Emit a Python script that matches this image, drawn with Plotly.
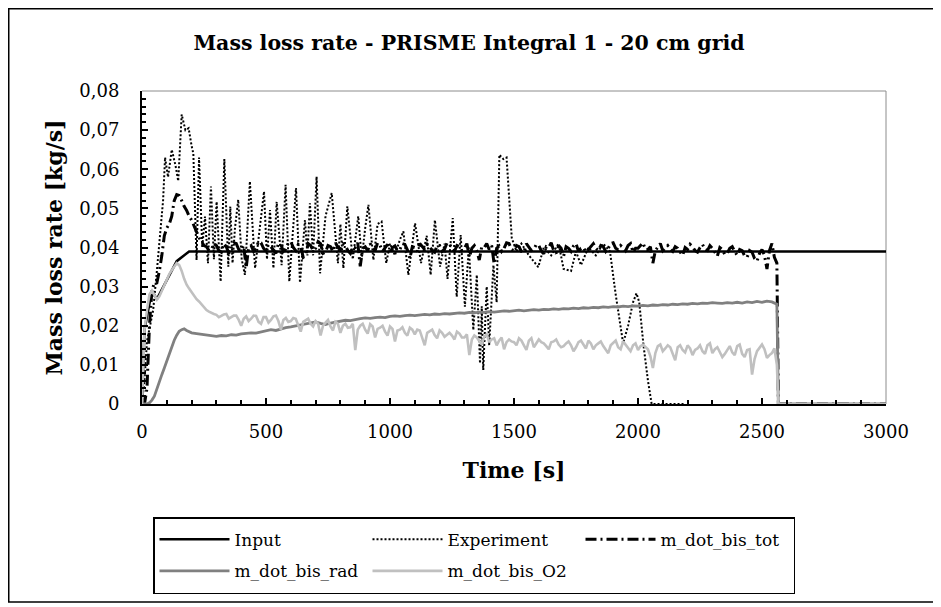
import plotly.graph_objects as go

# ---------------- data ----------------
series_names = ["Input", "Experiment", "m_dot_bis_tot", "m_dot_bis_rad", "m_dot_bis_O2"]

input_t = [0, 10, 40, 60, 140, 190, 3000]
input_v = [0.0, 0.019, 0.029, 0.0268, 0.0365, 0.0390, 0.0390]

exp_t = [0, 10, 20, 30, 45, 60, 75, 85, 93, 105, 120, 135, 146, 160, 175, 188, 200, 207, 220, 230,
         243, 254, 266, 278, 290, 301, 317, 332, 348, 356, 365, 375, 388, 402, 415, 435, 456, 475, 492, 504,
         516, 530, 543, 563, 579, 594, 621, 637, 657, 667, 677, 690, 704, 718, 740, 765, 790, 800, 812, 828,
         850, 872, 886, 900, 913, 933, 950, 966, 985, 1000, 1020, 1040, 1054, 1074, 1101, 1125, 1148, 1164, 1181, 1202,
         1220, 1232, 1253, 1269, 1285, 1302, 1318, 1336, 1350, 1363, 1370, 1376, 1390, 1400, 1417, 1430, 1441, 1457, 1470, 1491,
         1510, 1530, 1560, 1598, 1620, 1650, 1680, 1700, 1730, 1750, 1770, 1800, 1830, 1860, 1887, 1910, 1940, 1960, 1980, 1994,
         2005, 2022, 2040, 2055, 2100, 2190]
exp_v = [0.0, 0.006, 0.016, 0.019, 0.024, 0.034, 0.044, 0.052, 0.063, 0.058, 0.065, 0.061, 0.057, 0.074, 0.070, 0.0705, 0.066, 0.064, 0.0368, 0.063,
         0.040, 0.0479, 0.036, 0.0556, 0.037, 0.0517, 0.0313, 0.0626, 0.0351, 0.0505, 0.036, 0.045, 0.0522, 0.037, 0.033, 0.0569, 0.0347, 0.045, 0.0543, 0.037,
         0.0496, 0.0347, 0.0517, 0.0355, 0.056, 0.0313, 0.0552, 0.031, 0.047, 0.038, 0.0513, 0.038, 0.0581, 0.0334, 0.048, 0.0539, 0.036, 0.046, 0.0347, 0.0505,
         0.037, 0.048, 0.037, 0.045, 0.0509, 0.0368, 0.046, 0.0466, 0.036, 0.041, 0.038, 0.042, 0.0441, 0.033, 0.0462, 0.036, 0.043, 0.033, 0.047, 0.0351,
         0.041, 0.032, 0.0475, 0.0274, 0.0432, 0.0249, 0.040, 0.0189, 0.033, 0.0104, 0.025, 0.0087, 0.030, 0.015, 0.0355, 0.026, 0.0637, 0.0626, 0.063, 0.0424,
         0.039, 0.041, 0.038, 0.035, 0.040, 0.038, 0.041, 0.0345, 0.034, 0.039, 0.0355, 0.040, 0.038, 0.041, 0.039, 0.028, 0.0155, 0.020, 0.026, 0.0283,
         0.026, 0.0151, 0.006, 0.0, 0.0, 0.0]

# simulation output time grids (s)
t_fine = list(range(0, 200, 10)) + list(range(200, 2561, 10)) + [2566, 3000]
t_coarse = list(range(0, 200, 10)) + list(range(200, 2561, 20)) + [2566, 3000]

tot_v = [0.0, 0.0, 0.004, 0.020, 0.029, 0.031, 0.031, 0.034, 0.038, 0.043,
         0.045, 0.046, 0.048, 0.052, 0.0535, 0.0533, 0.052, 0.0505, 0.0495, 0.048,
         0.0470, 0.0455, 0.0440, 0.0425, 0.0415, 0.0405, 0.0402, 0.0392, 0.0395, 0.0410,
         0.0405, 0.0392, 0.0388, 0.0410, 0.0402, 0.0385, 0.0398, 0.0412, 0.0410, 0.0395,
         0.0392, 0.0405, 0.0348, 0.0400, 0.0405, 0.0390, 0.0398, 0.0415, 0.0412, 0.0398,
         0.0390, 0.0408, 0.0402, 0.0392, 0.0385, 0.0410, 0.0408, 0.0390, 0.0396, 0.0412,
         0.0415, 0.0400, 0.0392, 0.0408, 0.0402, 0.0375, 0.0380, 0.0410, 0.0405, 0.0392,
         0.0398, 0.0415, 0.0410, 0.0385, 0.0388, 0.0405, 0.0402, 0.0390, 0.0412, 0.0400,
         0.0395, 0.0410, 0.0405, 0.0392, 0.0385, 0.0402, 0.0400, 0.0412, 0.0352, 0.0398,
         0.0402, 0.0392, 0.0410, 0.0400, 0.0392, 0.0412, 0.0405, 0.0390, 0.0398, 0.0408,
         0.0385, 0.0400, 0.0404, 0.0392, 0.0395, 0.0410, 0.0408, 0.0394, 0.0372, 0.0402,
         0.0400, 0.0390, 0.0410, 0.0402, 0.0395, 0.0408, 0.0402, 0.0392, 0.0388, 0.0405,
         0.0405, 0.0390, 0.0396, 0.0412, 0.0410, 0.0395, 0.0390, 0.0405, 0.0402, 0.0392,
         0.0398, 0.0410, 0.0375, 0.0398, 0.0405, 0.0392, 0.0368, 0.0402, 0.0400, 0.0410,
         0.0395, 0.0405, 0.0358, 0.0398, 0.0404, 0.0390, 0.0398, 0.0412, 0.0410, 0.0395,
         0.0392, 0.0405, 0.0402, 0.0390, 0.0388, 0.0410, 0.0400, 0.0392, 0.0395, 0.0408,
         0.0405, 0.0392, 0.0384, 0.0402, 0.0400, 0.0412, 0.0392, 0.0385, 0.0405, 0.0398,
         0.0378, 0.0402, 0.0398, 0.0390, 0.0404, 0.0410, 0.0390, 0.0398, 0.0400, 0.0388,
         0.0395, 0.0402, 0.0410, 0.0398, 0.0392, 0.0405, 0.0402, 0.0390, 0.0398, 0.0410,
         0.0412, 0.0398, 0.0394, 0.0405, 0.0400, 0.0392, 0.0405, 0.0410, 0.0388, 0.0398,
         0.0398, 0.0405, 0.0412, 0.0395, 0.0395, 0.0402, 0.0360, 0.0392, 0.0400, 0.0410,
         0.0392, 0.0400, 0.0405, 0.0395, 0.0390, 0.0402, 0.0398, 0.0388, 0.0380, 0.0400,
         0.0395, 0.0408, 0.0402, 0.0392, 0.0388, 0.0400, 0.0408, 0.0395, 0.0392, 0.0405,
         0.0398, 0.0388, 0.0378, 0.0400, 0.0395, 0.0382, 0.0385, 0.0398, 0.0402, 0.0390,
         0.0380, 0.0395, 0.0392, 0.0378, 0.0375, 0.0392, 0.0388, 0.0372, 0.0365, 0.0385,
         0.0395, 0.0380, 0.0345, 0.0392, 0.0410, 0.0375, 0.0360,
         0.0, 0.0]

rad_v = [0.0, 0.0, 0.0, 0.0003, 0.001, 0.002, 0.004, 0.0058, 0.0075, 0.0092,
         0.011, 0.013, 0.015, 0.0163, 0.0176, 0.0186, 0.019, 0.0192, 0.0188, 0.0185,
         0.0182, 0.0180, 0.0178, 0.0176, 0.0175,
         0.0173, 0.0175, 0.0174, 0.0177, 0.0176,
         0.0179, 0.0180, 0.0182, 0.0181, 0.0184,
         0.0186, 0.0190, 0.0188, 0.0192, 0.0195,
         0.0197, 0.0200, 0.0203, 0.0205, 0.0207,
         0.0210, 0.0206, 0.0203, 0.0207, 0.0210,
         0.0212, 0.0214, 0.0213, 0.0216, 0.0218,
         0.0220, 0.0219, 0.0221, 0.0222, 0.0221,
         0.0224, 0.0225, 0.0224, 0.0226, 0.0227,
         0.0226, 0.0228, 0.0229, 0.0228, 0.0230,
         0.0229, 0.0231, 0.0230, 0.0232, 0.0233,
         0.0232, 0.0234, 0.0233, 0.0235, 0.0234,
         0.0236, 0.0235, 0.0237, 0.0238, 0.0237,
         0.0238, 0.0240, 0.0238, 0.0239, 0.0241,
         0.0240, 0.0242, 0.0241, 0.0243, 0.0242,
         0.0244, 0.0243, 0.0245, 0.0244, 0.0246,
         0.0245, 0.0247, 0.0246, 0.0248, 0.0247,
         0.0249, 0.0248, 0.0250, 0.0249, 0.0251,
         0.0250, 0.0252, 0.0251, 0.0253, 0.0252,
         0.0254, 0.0253, 0.0255, 0.0254, 0.0256,
         0.0255, 0.0257, 0.0256, 0.0258, 0.0257,
         0.0259, 0.0258, 0.0257, 0.0259, 0.0258,
         0.0260, 0.0258, 0.0261, 0.0259, 0.0262,
         0.0260, 0.0263, 0.0261, 0.0255,
         0.0, 0.0]

o2_v = [0.0, 0.019, 0.024, 0.028, 0.029, 0.0278, 0.0267, 0.0275, 0.029, 0.0305,
        0.032, 0.0332, 0.0342, 0.0352, 0.0360, 0.0355, 0.0340, 0.0320, 0.0305, 0.0295,
        0.0285, 0.0276, 0.0268, 0.0262, 0.0255, 0.0248, 0.0240, 0.0236, 0.0232, 0.0230,
        0.0228, 0.0222, 0.0225, 0.0229, 0.0230, 0.0218, 0.0222, 0.0226, 0.0226, 0.0215,
        0.0200, 0.0218, 0.0224, 0.0212, 0.0218, 0.0226, 0.0225, 0.0210, 0.0205, 0.0222,
        0.0222, 0.0208, 0.0215, 0.0224, 0.0226, 0.0212, 0.0190, 0.0215, 0.0220, 0.0210,
        0.0212, 0.0220, 0.0218, 0.0200, 0.0185, 0.0210, 0.0215, 0.0218, 0.0205, 0.0198,
        0.0212, 0.0205, 0.0175, 0.0200, 0.0208, 0.0215, 0.0198, 0.0188, 0.0210, 0.0205,
        0.0182, 0.0200, 0.0205, 0.0195, 0.0196, 0.0205, 0.0138, 0.0190, 0.0200, 0.0205,
        0.0190, 0.0180, 0.0204, 0.0198, 0.0170, 0.0192, 0.0195, 0.0200, 0.0185, 0.0175,
        0.0198, 0.0192, 0.0160, 0.0188, 0.0190, 0.0196, 0.0182, 0.0175, 0.0195, 0.0190,
        0.0178, 0.0190, 0.0188, 0.0170, 0.0150, 0.0182, 0.0185, 0.0190, 0.0176, 0.0168,
        0.0188, 0.0182, 0.0172, 0.0178, 0.0182, 0.0175, 0.0165, 0.0185, 0.0180, 0.0170,
        0.0170, 0.0178, 0.0125, 0.0165, 0.0175, 0.0170, 0.0160, 0.0152, 0.0172, 0.0178,
        0.0158, 0.0165, 0.0168, 0.0150, 0.0162, 0.0170, 0.0140, 0.0158, 0.0165, 0.0160,
        0.0158, 0.0150, 0.0168, 0.0162, 0.0150, 0.0138, 0.0162, 0.0168, 0.0145, 0.0155,
        0.0165, 0.0158, 0.0155, 0.0148, 0.0140, 0.0158, 0.0160, 0.0165, 0.0152, 0.0145,
        0.0148, 0.0155, 0.0160, 0.0150, 0.0135, 0.0145, 0.0158, 0.0162, 0.0150, 0.0142,
        0.0162, 0.0155, 0.0140, 0.0150, 0.0155, 0.0160, 0.0148, 0.0138, 0.0130, 0.0150,
        0.0155, 0.0162, 0.0145, 0.0140, 0.0160, 0.0152, 0.0142, 0.0135, 0.0150, 0.0155,
        0.0138, 0.0148, 0.0152, 0.0145, 0.0140, 0.0122, 0.0092, 0.0130, 0.0148, 0.0152,
        0.0135, 0.0142, 0.0150, 0.0145, 0.0128, 0.0112, 0.0145, 0.0150, 0.0138, 0.0132,
        0.0150, 0.0142, 0.0125, 0.0138, 0.0142, 0.0150, 0.0135, 0.0128, 0.0150, 0.0155,
        0.0130, 0.0140, 0.0145, 0.0132, 0.0120, 0.0128, 0.0140, 0.0148, 0.0132, 0.0125,
        0.0148, 0.0152, 0.0128, 0.0120, 0.0138, 0.0140, 0.0075, 0.0115, 0.0135, 0.0145,
        0.0152, 0.0140, 0.0118, 0.0125, 0.0130, 0.0142, 0.0100,
        0.0, 0.0]

assert len(tot_v) == len(t_fine) and len(o2_v) == len(t_fine)
assert len(rad_v) == len(t_coarse)
assert len(exp_t) == len(exp_v) and len(input_t) == len(input_v)

x_ticks = [0, 500, 1000, 1500, 2000, 2500, 3000]
x_ticktext = ["0", "500", "1000", "1500", "2000", "2500", "3000"]
y_ticks = [0, 0.01, 0.02, 0.03, 0.04, 0.05, 0.06, 0.07, 0.08]
y_ticktext = ["0", "0,01", "0,02", "0,03", "0,04", "0,05", "0,06", "0,07", "0,08"]

title_text = "Mass loss rate - PRISME Integral 1 - 20 cm grid"
x_title = "Time [s]"
y_title = "Mass loss rate [kg/s]"

# ---------------- figure ----------------
FONT = "DejaVu Serif"
W, H = 941, 607
OFF = 8  # page offset of the plot div
# plot area in page pixels: x 142..886, y 91..404
ML, MT = 142 - OFF, 91 - OFF
MR, MB = W - (886 - OFF), H - (404 - OFF)
PW, PH = W - ML - MR, H - MT - MB


def px_x(px):  # page px -> paper
    return (px - OFF - ML) / PW


def px_y(py):
    return (H - MB - (py - OFF)) / PH


def legend_label(name):
    # legend rows are spaced by the legend font size; the visible text is smaller
    return '<span style="font-size:17px;baseline-shift:2px">' + name + '</span>'


fig = go.Figure()
fig.add_trace(go.Scatter(x=input_t, y=input_v, name=legend_label(series_names[0]), mode="lines",
                         line=dict(color="#000000", width=2.5)))
fig.add_trace(go.Scatter(x=exp_t, y=exp_v, name=legend_label(series_names[1]), mode="lines",
                         line=dict(color="#000000", width=2, dash="2px,2px")))
fig.add_trace(go.Scatter(x=t_fine, y=tot_v, name=legend_label(series_names[2]), mode="lines",
                         line=dict(color="#000000", width=3, dash="11px,4px,2px,4px")))
fig.add_trace(go.Scatter(x=t_coarse, y=rad_v, name=legend_label(series_names[3]), mode="lines",
                         line=dict(color="#808080", width=2.8)))
fig.add_trace(go.Scatter(x=t_fine, y=o2_v, name=legend_label(series_names[4]), mode="lines",
                         line=dict(color="#c0c0c0", width=2.6)))

shapes = [
    dict(type="rect", xref="paper", yref="paper",
         x0=px_x(OFF + 0.75), x1=px_x(936), y0=px_y(602), y1=px_y(OFF + 0.75),
         line=dict(color="#000000", width=1.5), layer="below"),
    dict(type="line", xref="paper", yref="paper", x0=0, x1=1, y0=1, y1=1,
         line=dict(color="#8c8c8c", width=1), layer="below"),
    dict(type="line", xref="paper", yref="paper", x0=1, x1=1, y0=0, y1=1,
         line=dict(color="#8c8c8c", width=1), layer="below"),
]

fig.update_layout(
    width=W, height=H,
    margin=dict(l=ML, r=MR, t=MT, b=MB, autoexpand=False),
    paper_bgcolor="#ffffff", plot_bgcolor="#ffffff",
    font=dict(family=FONT, color="#000000", size=18),
    title=dict(text="<b>" + title_text + "</b>", x=(469 - OFF) / W, xanchor="center", xref="container",
               y=1 - (43 - OFF) / H, yanchor="middle", yref="container",
               font=dict(family=FONT, size=20.5, color="#000000")),
    showlegend=True,
    legend=dict(orientation="h", x=px_x(153), y=px_y(517), xanchor="left", yanchor="top",
                xref="paper", yref="paper",
                entrywidth=128, entrywidthmode="pixels", itemwidth=70,
                bordercolor="#000000", borderwidth=1.5, bgcolor="#ffffff",
                font=dict(family=FONT, size=22, color="#000000"),
                traceorder="normal"),
    shapes=shapes,
)

fig.update_xaxes(
    range=[0, 3000], tickvals=x_ticks, ticktext=x_ticktext,
    showgrid=False, zeroline=False,
    showline=True, linecolor="#000000", linewidth=2,
    ticks="inside", ticklen=6, tickwidth=1.5, tickcolor="#000000",
    minor=dict(ticks="inside", ticklen=4, tickwidth=1.5, tickcolor="#000000", dtick=100, tick0=0, showgrid=False),
    tickfont=dict(family=FONT, size=18), ticklabelstandoff=10,
    title=dict(text="<b>" + x_title + "</b>", font=dict(family=FONT, size=22), standoff=22),
)
fig.update_yaxes(
    range=[0, 0.08], tickvals=y_ticks, ticktext=y_ticktext,
    showgrid=False, zeroline=False,
    showline=True, linecolor="#000000", linewidth=2,
    ticks="inside", ticklen=6, tickwidth=1.5, tickcolor="#000000",
    minor=dict(ticks="inside", ticklen=4, tickwidth=1.5, tickcolor="#000000", dtick=0.002, tick0=0, showgrid=False),
    tickfont=dict(family=FONT, size=18), ticklabelstandoff=17,
    title=dict(text="<b>" + y_title + "</b>", font=dict(family=FONT, size=22), standoff=11),
)

fig.write_html("out.html")
